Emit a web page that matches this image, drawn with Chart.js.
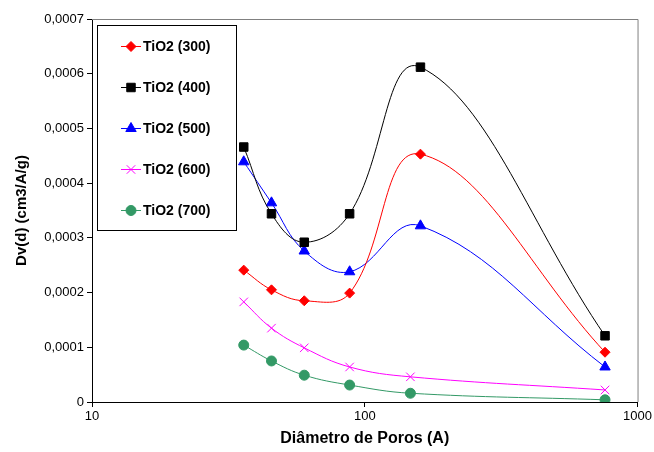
<!DOCTYPE html>
<html>
<head>
<meta charset="utf-8">
<script src="https://cdn.jsdelivr.net/npm/chart.js@4.4.0/dist/chart.umd.js"></script>
<style>
  html, body { margin: 0; padding: 0; background: #fff; }
  #wrap { width: 654px; height: 452px; }
</style>
</head>
<body>
<div id="wrap"><canvas id="poreChart" width="654" height="452"></canvas></div>
<script>
// Pore diameter (A) and Dv(d) values
const diamA = [36, 45.5, 60, 88, 160, 760];
const diamB = [36, 45.5, 60, 88, 147, 760];
const tio2_300 = [0.000241, 0.000205, 0.000185, 0.000199, 0.000453, 0.000091];
const tio2_400 = [0.000466, 0.000344, 0.000292, 0.000344, 0.000612, 0.000121];
const tio2_500 = [0.000439, 0.000364, 0.000276, 0.000238, 0.000322, 0.000064];
const tio2_600 = [0.000183, 0.000135, 0.000099, 0.000064, 0.000046, 0.000022];
const tio2_700 = [0.000104, 0.000075, 0.000049, 0.000031, 0.000016, 0.000004];
const xTicks = [10, 100, 1000];

const FONT = 'Arial, "Liberation Sans", sans-serif';

function pts(xs, ys) {
    return xs.map((x, i) => ({ x: x, y: ys[i] }));
}

function series(label, xs, ys, color, style, radius) {
    return {
        label: label,
        data: pts(xs, ys),
        borderColor: color,
        backgroundColor: color,
        borderWidth: 1,
        tension: 0.4,
        pointStyle: style,
        pointRadius: radius,
        pointBorderWidth: 1,
        pointBorderColor: color,
        pointBackgroundColor: color
    };
}

// Legend drawn inside the plot, Excel style
const boxLegend = {
    id: 'boxLegend',
    afterDraw(chart) {
        const ctx = chart.ctx;
        const area = chart.chartArea;
        ctx.save();
        // gray frame on top and right of plot
        ctx.strokeStyle = '#808080';
        ctx.lineWidth = 1;
        ctx.beginPath();
        ctx.moveTo(area.left, area.top + 0.5);
        ctx.lineTo(area.right + 0.5, area.top + 0.5);
        ctx.lineTo(area.right + 0.5, area.bottom);
        ctx.stroke();

        ctx.fillStyle = '#fff';
        ctx.fillRect(97, 25, 140, 206);
        ctx.strokeStyle = '#000';
        ctx.strokeRect(97.5, 25.5, 139, 205);

        const rows = [46, 87, 128, 169, 210];
        chart.data.datasets.forEach((ds, i) => {
            const y = rows[i];
            ctx.strokeStyle = ds.borderColor;
            ctx.lineWidth = 1;
            ctx.beginPath();
            ctx.moveTo(121, y + 0.5);
            ctx.lineTo(141, y + 0.5);
            ctx.stroke();
            ctx.fillStyle = ds.backgroundColor;
            Chart.helpers.drawPoint(ctx, {
                pointStyle: ds.pointStyle,
                radius: ds.pointRadius,
                borderWidth: 1
            }, 131, y + 0.5);
            ctx.fillStyle = '#000';
            ctx.font = 'bold 14px ' + FONT;
            ctx.textBaseline = 'middle';
            ctx.textAlign = 'left';
            ctx.fillText(ds.label, 143, y + 1);
        });
        ctx.restore();
    }
};

new Chart(document.getElementById('poreChart'), {
    type: 'line',
    data: {
        datasets: [
            series('TiO2 (300)', diamA, tio2_300, '#ff0000', 'rectRot', 5),
            series('TiO2 (400)', diamA, tio2_400, '#000000', 'rect', 6),
            series('TiO2 (500)', diamA, tio2_500, '#0000ff', 'triangle', 6),
            series('TiO2 (600)', diamB, tio2_600, '#ff00ff', 'crossRot', 6),
            series('TiO2 (700)', diamB, tio2_700, '#339966', 'circle', 5)
        ]
    },
    options: {
        responsive: false,
        animation: false,
        layout: { padding: { top: 19, right: 16, left: 0, bottom: 0 } },
        plugins: {
            legend: { display: false },
            tooltip: { enabled: false }
        },
        scales: {
            x: {
                type: 'logarithmic',
                min: 10,
                max: 1000,
                afterBuildTicks: scale => { scale.ticks = xTicks.map(v => ({ value: v })); },
                afterFit: scale => { scale.height = 50; },
                grid: { drawOnChartArea: false, tickLength: 5, color: '#000' },
                border: { color: '#000', width: 1 },
                ticks: {
                    color: '#000',
                    font: { family: FONT, size: 13 },
                    padding: 2,
                    maxRotation: 0,
                    callback: v => String(v)
                },
                title: {
                    display: true,
                    text: 'Diâmetro de Poros (A)',
                    color: '#000',
                    font: { family: FONT, size: 16, weight: 'bold' },
                    padding: { top: 2 }
                }
            },
            y: {
                min: 0,
                max: 0.0007,
                afterFit: scale => { scale.width = 92; },
                grid: { drawOnChartArea: false, tickLength: 5, color: '#000' },
                border: { color: '#000', width: 1 },
                ticks: {
                    stepSize: 0.0001,
                    color: '#000',
                    font: { family: FONT, size: 13 },
                    padding: 3,
                    callback: v => v === 0 ? '0' : v.toFixed(4).replace('.', ',')
                },
                title: {
                    display: true,
                    text: 'Dv(d) (cm3/A/g)',
                    color: '#000',
                    font: { family: FONT, size: 15, weight: 'bold' },
                    padding: { top: 13, bottom: 0 }
                }
            }
        }
    },
    plugins: [boxLegend]
});
</script>
</body>
</html>
